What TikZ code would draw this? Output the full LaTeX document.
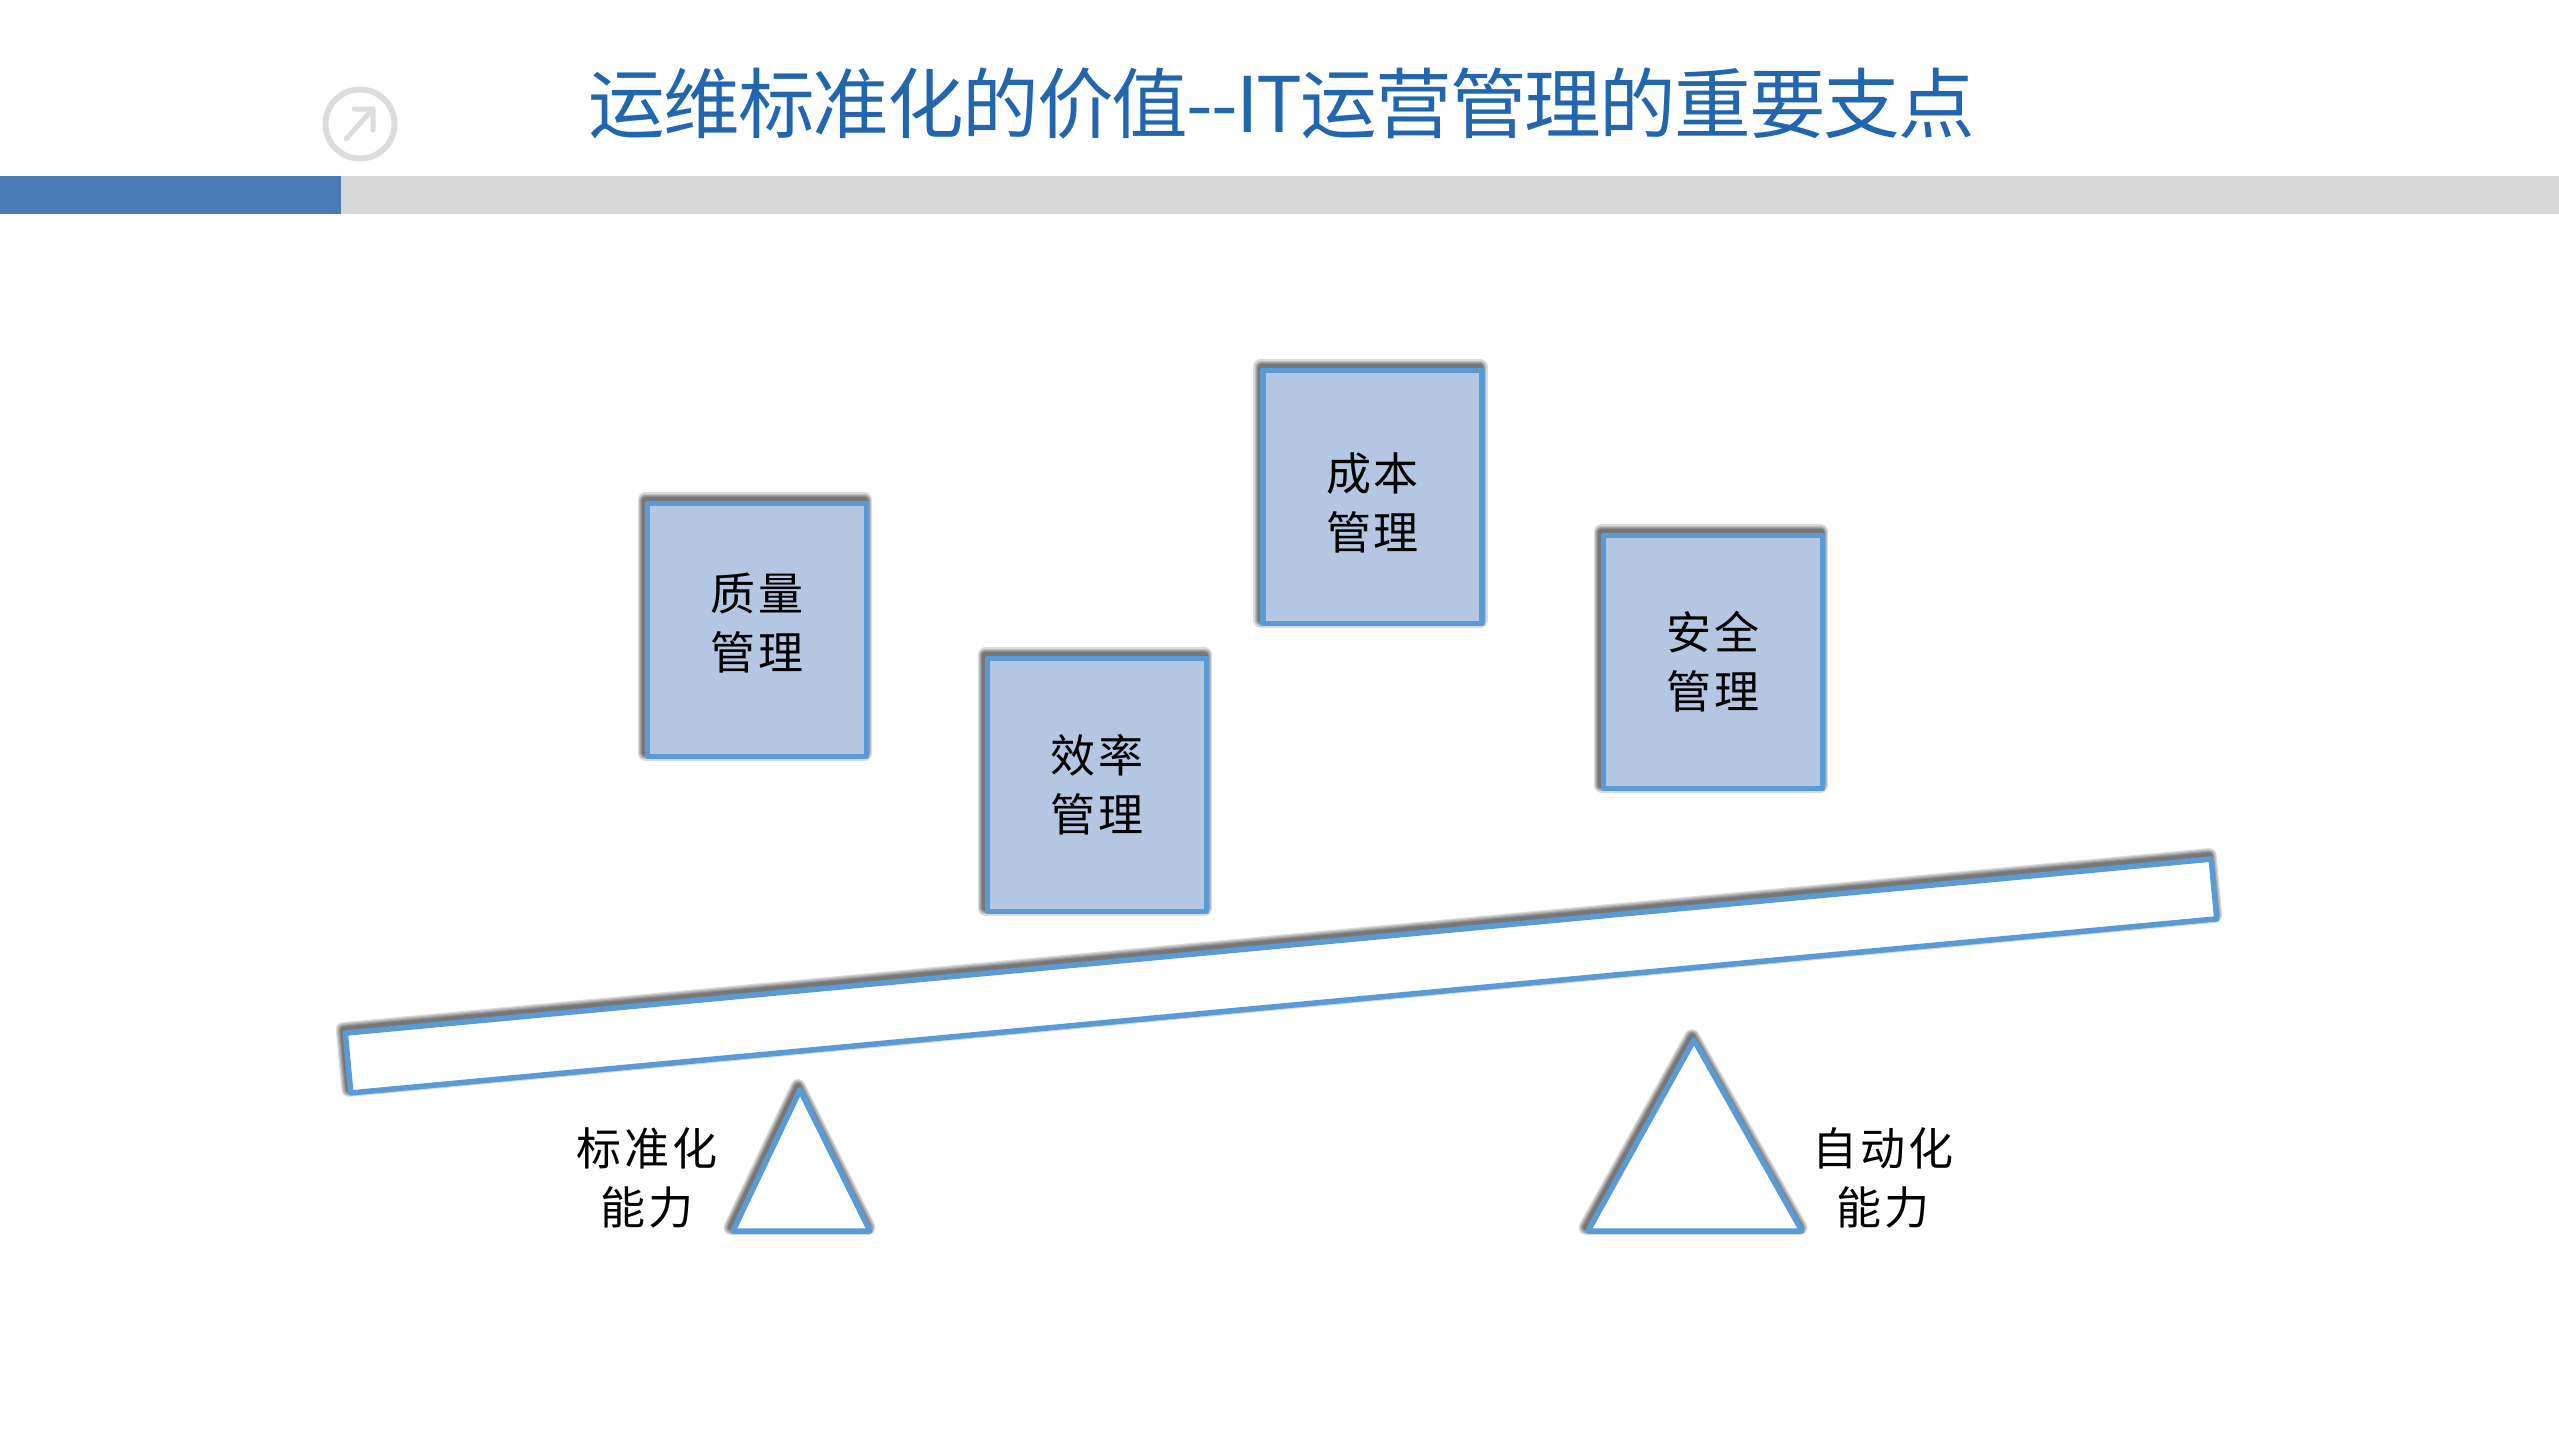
\documentclass[tikz,border=0pt]{standalone}
\usepackage{fontspec}
\usepackage{xcolor}
\usetikzlibrary{positioning, calc}
\newfontfamily\titlefont[LetterSpace=-2.5]{Noto Sans CJK SC}
\newfontfamily\labelfont[LetterSpace=6]{Noto Sans CJK SC}
\definecolor{edgeblue}{HTML}{5B9BD5}
\definecolor{boxblue}{HTML}{B4C7E2}
\definecolor{barblue}{HTML}{4A7BB5}
\definecolor{bargray}{HTML}{D7D7D7}
\definecolor{titleblue}{HTML}{2166AE}
\definecolor{icongray}{HTML}{DDDDDD}

\begin{document}
\begin{tikzpicture}[
            x=0.01cm, y=-0.01cm,
            shadelayer/.style={preaction={draw=black, draw opacity=0.14, line width=#1, line join=round, transform canvas={xshift=-0.02cm, yshift=0.035cm}}},
            softshadow/.style={shadelayer=0.15cm, shadelayer=0.125cm, shadelayer=0.10cm, shadelayer=0.08cm, shadelayer=0.06cm},
            outline/.style={draw=edgeblue, line width=0.055cm, line join=round, softshadow},
            caption/.style={align=center, font=\labelfont\fontsize{12.8}{16.8}\selectfont},
            card/.style={outline, fill=boxblue, rectangle, minimum width=2.19cm, minimum height=2.53cm, inner sep=0pt, caption},
            plank/.style={outline, fill=white, rectangle, minimum width=18.73cm, minimum height=0.60cm, inner sep=0pt, rotate=5.33},
            pivot/.style={outline, fill=white}
        ]
            \useasboundingbox (0,0) rectangle (2559,1439);

% Header
            \fill[bargray] (341,176) rectangle (2559,214);
            \fill[barblue] (0,176) rectangle (341,214);
            \node[draw=icongray, line width=0.06cm, circle, minimum size=0.69cm, inner sep=0pt] (icon) at (360,124) {};
            \draw[icongray, line width=0.05cm, line cap=round, line join=round] (346,139) -- (373,109) (354,109) -- (373,109) -- (373,130);
            \node[text=titleblue, font=\titlefont\fontsize{21.8}{26}\selectfont] (title) at (1282,104) {运维标准化的价值--IT运营管理的重要支点};

% Boxes on the beam
            \node[card, label={[caption, yshift=0.07cm]center:{质量\\管理}}] (quality) at (757,630) {};
            \node[card] (efficiency) at (1097,785) {效率\\管理};
            \node[card, label={[caption, yshift=-0.06cm]center:{成本\\管理}}] (cost) at (1372.5,497) {};
            \node[card] (security) at (1713,662) {安全\\管理};

% Beam and pivots
            \node[plank] (beam) at (1281,976) {};
            \draw[pivot] (800,1090) -- (870,1231) -- (733,1231) -- cycle;
            \draw[pivot] (1694,1040) -- (1802,1231) -- (1588,1231) -- cycle;

% Pivot captions
            \node[caption] (standard) at (647,1178) {标准化\\能力};
            \node[caption] (automation) at (1883,1178) {自动化\\能力};

        \end{tikzpicture}
\end{document}
